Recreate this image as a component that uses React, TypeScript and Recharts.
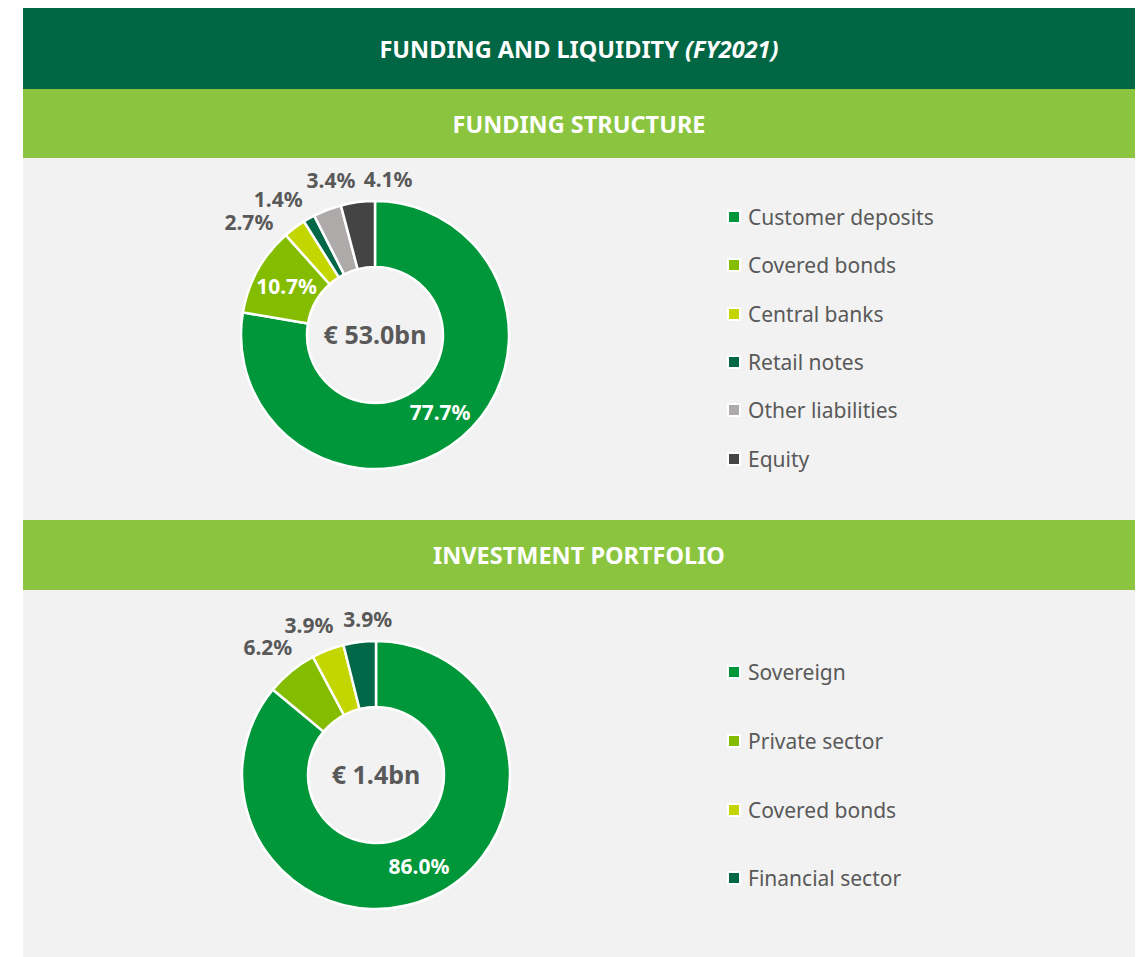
import React from "react";
import { PieChart, Pie, Cell, Legend } from "recharts";

const fundingCategories = ["Customer deposits", "Covered bonds", "Central banks", "Retail notes", "Other liabilities", "Equity"];
const fundingValues = [77.7, 10.7, 2.7, 1.4, 3.4, 4.1];
const fundingColors = ["#00973A", "#84BD00", "#C4D600", "#006747", "#ADAAA9", "#444444"];
const fundingTotal = "€ 53.0bn";

const investCategories = ["Sovereign", "Private sector", "Covered bonds", "Financial sector"];
const investValues = [86.0, 6.2, 3.9, 3.9];
const investColors = ["#00973A", "#84BD00", "#C4D600", "#006747"];
const investTotal = "€ 1.4bn";

const FONT = "'Noto Sans', 'Open Sans', sans-serif";
const TEXT_GREY = "#595959";
const INSIDE_MIN = 10;
const LABEL_FONT = 21;
const LABEL_W = 48;
const LABEL_H = 22;
const LABEL_GAP = 10;
const OUTER_R = 134;
const INNER_R = 68;
const RAD = Math.PI / 180;

// required angular separation (deg) between neighbouring outside labels at angle th (deg from top, ccw)
function requiredSep(th: number, r: number) {
  const t = Math.abs(th) * RAD;
  const c = Math.max(Math.cos(t), 1e-3);
  const s = Math.max(Math.sin(t), 1e-3);
  const dist = Math.min((LABEL_W + LABEL_GAP) / c, (LABEL_H + 2) / s);
  return (dist / r) / RAD;
}

// adjusted label angles in recharts convention (deg, ccw from 3 o'clock) for outside labels
function spreadAngles(values: number[]): Record<number, number> {
  const total = values.reduce((a, b) => a + b, 0);
  let cum = 0;
  const items: { idx: number; a: number }[] = [];
  values.forEach((v, i) => {
    const mid = 90 - (360 * (cum + v / 2)) / total;
    cum += v;
    if (v < INSIDE_MIN) {
      let ccw = ((mid - 90) % 360 + 360) % 360;
      if (ccw > 180) ccw -= 360;
      items.push({ idx: i, a: ccw });
    }
  });
  items.sort((p, q) => p.a - q.a);
  const r = OUTER_R + 28;
  for (let it = 0; it < 400; it++) {
    for (let i = 0; i < items.length - 1; i++) {
      const gap = items[i + 1].a - items[i].a;
      const need = requiredSep((items[i].a + items[i + 1].a) / 2, r);
      if (gap < need) {
        const d = (need - gap) / 2;
        items[i].a -= d * 0.5;
        items[i + 1].a += d * 0.5;
      }
    }
  }
  const out: Record<number, number> = {};
  items.forEach((m) => {
    out[m.idx] = 90 + m.a;
  });
  return out;
}

function makeLabel(values: number[]) {
  const adjusted = spreadAngles(values);
  return (props: any) => {
    const { cx, cy, midAngle, innerRadius, outerRadius, index, value } = props;
    const text = `${Number(value).toFixed(1)}%`;
    if (value >= INSIDE_MIN) {
      const r = (innerRadius + outerRadius) / 2;
      const x = cx + r * Math.cos(-midAngle * RAD);
      const y = cy + r * Math.sin(-midAngle * RAD);
      return (
        <text x={x} y={y} fill="#ffffff" textAnchor="middle" dominantBaseline="central" fontFamily={FONT} fontWeight={700} fontSize={LABEL_FONT}>
          {text}
        </text>
      );
    }
    const ang = adjusted[index] ?? midAngle;
    const dx = Math.cos(-ang * RAD);
    const dy = Math.sin(-ang * RAD);
    const r = outerRadius + LABEL_GAP + Math.abs(dx) * (LABEL_W / 2) + Math.abs(dy) * (LABEL_H / 2);
    const x = cx + r * dx;
    const y = cy + r * dy;
    return (
      <text x={x} y={y} fill={TEXT_GREY} textAnchor="middle" dominantBaseline="central" fontFamily={FONT} fontWeight={700} fontSize={LABEL_FONT}>
        {text}
      </text>
    );
  };
}

function makeLegend(names: string[], colors: string[], rowGap: number) {
  return () => (
    <div style={{ fontFamily: FONT }}>
      {names.map((n, i) => (
        <div key={n} style={{ display: "flex", alignItems: "center", height: rowGap }}>
          <span
            style={{
              display: "inline-block",
              width: 10,
              height: 10,
              background: colors[i],
              border: "2px solid #ffffff",
              marginRight: 7,
              flexShrink: 0,
            }}
          />
          <span style={{ color: TEXT_GREY, fontSize: 21, whiteSpace: "nowrap" }}>{n}</span>
        </div>
      ))}
    </div>
  );
}

const bandStyle = (bg: string, h: number): React.CSSProperties => ({
  background: bg,
  height: h,
  display: "flex",
  alignItems: "center",
  justifyContent: "center",
  color: "#ffffff",
  fontFamily: FONT,
  fontWeight: 700,
  fontSize: 23.5,
});

function Donut(props: {
  width: number;
  height: number;
  cx: number;
  cy: number;
  names: string[];
  values: number[];
  colors: string[];
  total: string;
  legendTop: number;
  rowGap: number;
}) {
  const { width, height, cx, cy, names, values, colors, total, legendTop, rowGap } = props;
  const data = names.map((n, i) => ({ name: n, value: values[i] }));
  return (
    <PieChart width={width} height={height} margin={{ top: 0, right: 0, bottom: 0, left: 0 }}>
      <Pie
        data={data}
        dataKey="value"
        nameKey="name"
        cx={cx}
        cy={cy}
        innerRadius={INNER_R}
        outerRadius={OUTER_R}
        startAngle={90}
        endAngle={-270}
        stroke="#ffffff"
        strokeWidth={2.5}
        label={makeLabel(values)}
        labelLine={false}
        isAnimationActive={false}
      >
        {data.map((d, i) => (
          <Cell key={d.name} fill={colors[i]} />
        ))}
      </Pie>
      <text x={cx} y={cy - 1} textAnchor="middle" dominantBaseline="central" fill={TEXT_GREY} fontFamily={FONT} fontWeight={700} fontSize={25}>
        {total}
      </text>
      <Legend
        layout="vertical"
        align="right"
        verticalAlign="top"
        wrapperStyle={{ left: 704, top: legendTop, width: 360 }}
        content={makeLegend(names, colors, rowGap)}
      />
    </PieChart>
  );
}

export default function App() {
  return (
    <div style={{ marginLeft: 15, width: 1112, background: "#F2F2F2" }}>
      <div style={bandStyle("#006644", 81)}>
        <span>
          FUNDING AND LIQUIDITY <i>(FY2021)</i>
        </span>
      </div>
      <div style={bandStyle("#8BC540", 69)}>FUNDING STRUCTURE</div>
      <Donut
        width={1112}
        height={362}
        cx={352}
        cy={177}
        names={fundingCategories}
        values={fundingValues}
        colors={fundingColors}
        total={fundingTotal}
        legendTop={35}
        rowGap={48.3}
      />
      <div style={bandStyle("#8BC540", 70)}>INVESTMENT PORTFOLIO</div>
      <Donut
        width={1112}
        height={372}
        cx={353}
        cy={185}
        names={investCategories}
        values={investValues}
        colors={investColors}
        total={investTotal}
        legendTop={48}
        rowGap={68.7}
      />
    </div>
  );
}
